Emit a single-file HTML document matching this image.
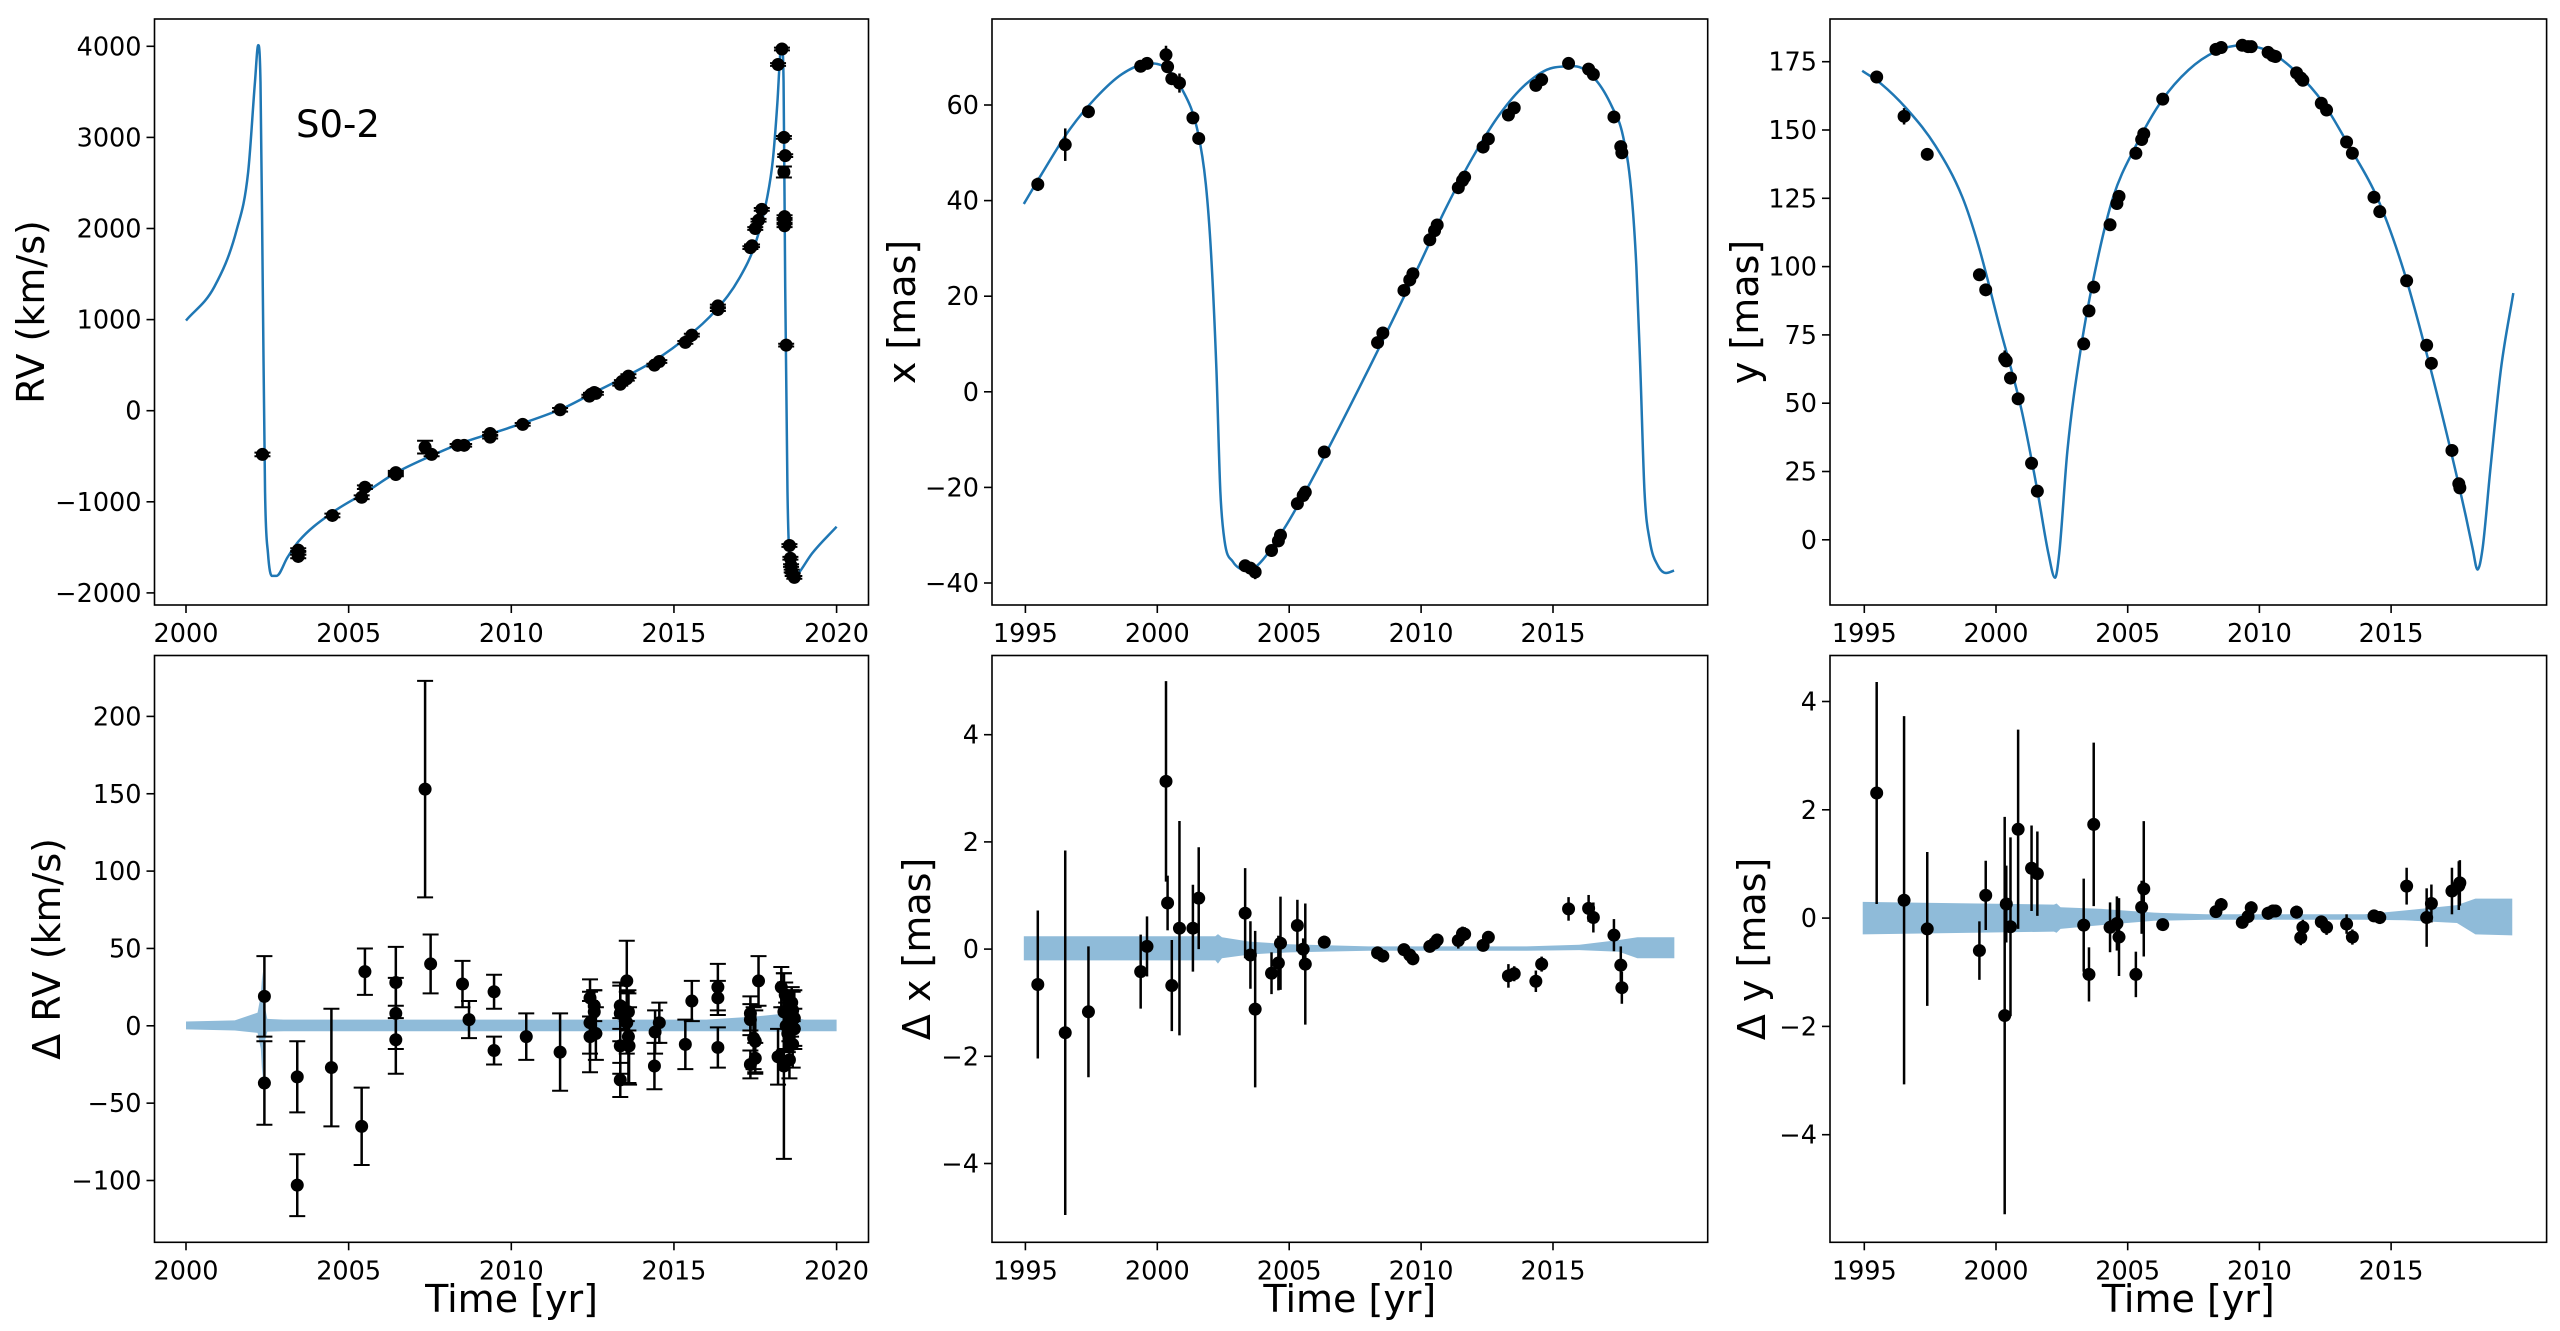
<!DOCTYPE html>
<html><head><meta charset="utf-8">
<style>
html,body{margin:0;padding:0;background:#fff;}
svg{display:block;font-family:"DejaVu Sans","Liberation Sans",sans-serif;}
</style></head>
<body>
<svg id="fig" width="2560" height="1331" viewBox="0 0 2560 1331" xmlns="http://www.w3.org/2000/svg"></svg>
<script>
// ---------- RV panel data ----------
const rvCurveYears = [2000.0,2000.87,2001.56,2001.91,2002.12,2002.22,2002.29,2002.36,2002.43,2002.52,2002.64,2002.78,2003.12,2003.47,2004.51,2005.55,2006.42,2007.46,2008.50,2009.89,2011.62,2012.49,2013.36,2014.40,2015.44,2016.31,2017.00,2017.52,2017.87,2018.04,2018.18,2018.27,2018.32,2018.37,2018.42,2018.49,2018.56,2018.70,2018.82,2019.25,2020.0];
const rvCurveVals = [990,1359,1988,2618,3608,4013,3608,1359,-890,-1565,-1813,-1813,-1610,-1430,-1115,-890,-688,-508,-351,-193,31,189,346,549,819,1111,1448,1853,2348,2753,3383,3924,3991,3608,1359,-890,-1655,-1835,-1790,-1565,-1273];
const rvYears = [2002.35,2003.45,2003.45,2003.45,2004.5,2005.4,2005.5,2006.45,2006.45,2007.35,2007.55,2008.35,2008.55,2009.35,2009.35,2010.35,2011.5,2012.4,2012.45,2012.55,2012.6,2013.35,2013.4,2013.55,2013.6,2014.4,2014.55,2015.35,2015.55,2016.35,2016.35,2017.35,2017.4,2017.5,2017.6,2017.7,2018.2,2018.32,2018.38,2018.42,2018.38,2018.4,2018.4,2018.4,2018.45,2018.55,2018.58,2018.6,2018.62,2018.65,2018.7];
const rvVals = [-480,-1530,-1560,-1600,-1150,-950,-840,-700,-680,-400,-480,-380,-380,-250,-290,-150,10,160,180,200,190,290,320,350,380,500,540,750,830,1110,1150,1790,1810,2000,2090,2210,3800,3970,3000,2800,2620,2130,2080,2030,720,-1480,-1620,-1700,-1760,-1800,-1830];
const rvErrs = [20,20,20,20,20,20,20,20,20,70,20,15,15,15,15,15,20,15,15,15,15,15,15,20,20,15,15,15,15,15,15,15,15,15,15,15,15,15,15,15,60,15,15,15,15,15,15,15,15,15,15];
const rvYTicks = [-2000,-1000,0,1000,2000,3000,4000];
const rvXTicks = [2000,2005,2010,2015,2020];
// ---------- RV residual data ----------
const drvYears = [2002.41,2002.41,2003.42,2003.42,2004.47,2005.40,2005.50,2006.45,2006.45,2006.45,2007.35,2007.52,2008.50,2008.70,2009.47,2009.47,2010.46,2011.50,2012.42,2012.42,2012.42,2012.55,2012.55,2012.60,2013.35,2013.35,2013.35,2013.35,2013.55,2013.55,2013.60,2013.62,2013.60,2014.40,2014.42,2014.55,2015.35,2015.55,2016.35,2016.35,2016.35,2017.35,2017.35,2017.35,2017.45,2017.50,2017.50,2017.60,2018.20,2018.30,2018.38,2018.38,2018.42,2018.45,2018.50,2018.55,2018.60,2018.62,2018.65,2018.65,2018.70,2018.70];
const drvVals = [19,-37,-33,-103,-27,-65,35,28,8,-9,153,40,27,4,22,-16,-7,-17,18,2,-7,13,9,-5,13,8,-13,-35,29,2,-7,-13,9,-26,-4,2,-12,16,25,18,-14,8,4,-25,-8,-10,-21,29,-20,25,9,-26,20,0,-5,-22,8,15,10,-12,-2,5];
const drvErrs = [26,27,23,20,38,25,15,23,23,22,70,19,15,12,11,9,15,25,12,20,23,10,14,17,15,18,18,11,26,20,30,25,12,15,14,13,16,13,15,11,13,11,10,9,20,20,10,16,18,13,25,60,8,15,12,12,15,10,12,15,13,18];
const drvBandYears = [2000,2001.5,2002.2,2002.3,2002.35,2002.4,2002.5,2003,2016,2017.5,2018.3,2019,2020];
const drvBandHi = [2.8,3.5,8.5,20,35,15,4.5,4,4,6,7.7,4,4];
const drvBandLo = [-2.3,-3,-4.6,-15,-34,-12,-3.8,-3.5,-3.5,-3.5,-3.8,-3.5,-3.5];
const drvYTicks = [-100,-50,0,50,100,150,200];
// ---------- x panel data ----------
const xCurveYears = [1994.94,1995.61,1996.63,1997.65,1998.67,1999.69,2000.31,2000.92,2001.53,2001.84,2002.04,2002.24,2002.39,2002.55,2002.86,2003.37,2003.78,2004.80,2005.82,2007.86,2009.90,2010.92,2011.94,2012.96,2013.98,2015.00,2015.82,2016.63,2017.24,2017.65,2017.96,2018.16,2018.31,2018.47,2018.67,2018.98,2019.29,2019.59];
const xCurveVals = [39.3,45.5,54.5,61.4,66.5,68.7,67.8,63.5,54.5,43.4,28.8,4.8,-20.9,-31.2,-35.5,-37.3,-36.4,-28.7,-18.8,3.1,26.2,38.2,48.9,57.9,64.4,67.8,68.1,65.2,59.6,53.6,42.4,26.2,4.8,-21.0,-31.2,-36.4,-37.9,-37.4];
const astYears = [1995.47,1996.51,1997.39,1999.37,1999.61,2000.33,2000.39,2000.55,2000.84,2001.35,2001.57,2003.33,2003.53,2003.71,2004.33,2004.59,2004.67,2005.31,2005.53,2005.61,2006.33,2008.35,2008.55,2009.35,2009.57,2009.69,2010.33,2010.51,2010.61,2011.41,2011.57,2011.65,2012.35,2012.55,2013.31,2013.53,2014.35,2014.57,2015.59,2016.35,2016.53,2017.31,2017.57,2017.61];
const xVals = [43.4,51.7,58.6,68.1,68.7,70.5,68.0,65.5,64.6,57.3,53.0,-36.4,-36.9,-37.7,-33.2,-31.2,-30.0,-23.4,-21.7,-21.0,-12.6,10.3,12.3,21.2,23.4,24.7,31.8,33.7,34.9,42.7,44.2,44.9,51.2,52.9,57.9,59.4,64.1,65.3,68.7,67.5,66.4,57.5,51.3,50.0];
const xErrs = [1.4,3.4,1.2,0.7,0.6,1.9,0.5,0.9,2.0,0.8,1.0,0.8,0.6,1.5,0.4,0.5,0.9,0.5,0.3,1.1,0.2,0.2,0.2,0.2,0.2,0.2,0.2,0.2,0.2,0.2,0.2,0.2,0.2,0.2,0.3,0.3,0.3,0.3,0.3,0.3,0.3,0.3,0.4,0.4];
const dxVals = [-0.66,-1.56,-1.17,-0.42,0.05,3.13,0.86,-0.68,0.39,0.39,0.95,0.67,-0.11,-1.12,-0.45,-0.26,0.11,0.44,0.0,-0.28,0.13,-0.07,-0.13,-0.01,-0.11,-0.18,0.05,0.11,0.17,0.16,0.29,0.28,0.07,0.22,-0.50,-0.46,-0.60,-0.28,0.75,0.76,0.59,0.26,-0.30,-0.72];
const dxErrs = [1.38,3.4,1.22,0.69,0.56,1.87,0.51,0.85,2.0,0.81,0.95,0.84,0.63,1.46,0.39,0.51,0.87,0.48,0.2,1.13,0.12,0.12,0.1,0.1,0.1,0.12,0.1,0.1,0.12,0.15,0.13,0.13,0.1,0.1,0.22,0.14,0.2,0.14,0.22,0.25,0.28,0.3,0.35,0.3];
const dxBandYears = [1994.94,2002.2,2002.3,2002.45,2003.5,2005,2008,2014,2016,2017.5,2018.2,2019.6];
const dxBandHi = [0.24,0.24,0.28,0.22,0.14,0.09,0.05,0.05,0.08,0.17,0.22,0.22];
const dxBandLo = [-0.21,-0.21,-0.27,-0.17,-0.1,-0.06,-0.03,-0.03,-0.02,-0.05,-0.17,-0.17];
const astXTicks = [1995,2000,2005,2010,2015];
const xYTicks = [-40,-20,0,20,40,60];
const dYTicks = [-4,-2,0,2,4];
// ---------- y panel data ----------
const yCurveYears = [1994.92,1995.65,1996.68,1997.70,1998.72,1999.34,2000.15,2000.97,2001.58,2001.99,2002.24,2002.40,2002.71,2003.22,2003.83,2004.45,2005.27,2006.29,2007.31,2008.33,2009.35,2010.38,2011.40,2012.42,2013.44,2014.46,2015.48,2016.30,2017.12,2017.84,2018.10,2018.28,2018.47,2018.76,2019.17,2019.64];
const yCurveVals = [171.7,166.8,157.0,144.2,125.5,107.5,77.5,47.5,17.5,-5.0,-13.9,-5.0,32.5,70.0,101.5,125.5,143.5,160.7,172.0,178.7,181.0,178.7,171.2,160.0,143.5,125.5,98.5,70.0,38.5,8.5,-3.4,-10.9,-3.4,25.0,62.5,90.3];
const yVals = [169.4,155.0,141.1,97.0,91.5,66.3,65.5,59.2,51.6,28.0,17.8,71.7,83.8,92.5,115.3,123.1,125.7,141.5,146.5,148.6,161.3,179.5,180.2,181.0,180.5,180.5,178.4,177.2,176.9,170.9,169.1,168.2,159.8,157.3,145.6,141.5,125.4,120.1,94.8,71.2,64.6,32.7,20.5,19.0];
const yErrs = [1.2,3.0,1.0,0.8,0.8,3.0,0.8,0.8,0.8,0.8,0.8,0.8,0.8,0.8,0.5,0.5,0.5,0.5,0.5,0.5,0.3,0.3,0.3,0.3,0.3,0.3,0.3,0.3,0.3,0.3,0.3,0.3,0.3,0.3,0.3,0.3,0.3,0.3,0.4,0.4,0.4,0.4,0.4,0.4];
const dyVals = [2.31,0.33,-0.2,-0.6,0.42,-1.8,0.26,-0.16,1.64,0.92,0.82,-0.13,-1.04,1.73,-0.17,-0.1,-0.35,-1.04,0.2,0.54,-0.12,0.12,0.25,-0.08,0.03,0.19,0.09,0.13,0.13,0.11,-0.36,-0.17,-0.07,-0.17,-0.11,-0.35,0.04,0.01,0.59,0.01,0.27,0.5,0.6,0.65];
const dyErrs = [2.05,3.4,1.42,0.54,0.64,3.67,0.71,1.65,1.84,0.79,0.78,0.86,0.5,1.51,0.46,0.5,0.72,0.42,0.49,1.25,0.1,0.1,0.12,0.1,0.12,0.12,0.12,0.12,0.1,0.12,0.14,0.14,0.1,0.14,0.18,0.14,0.1,0.12,0.34,0.54,0.35,0.43,0.45,0.42];
const dyBandYears = [1994.94,2002.2,2002.3,2002.45,2004,2006,2008,2014,2015.5,2017.5,2018.2,2019.6];
const dyBandHi = [0.3,0.25,0.27,0.2,0.17,0.1,0.07,0.07,0.14,0.24,0.36,0.36];
const dyBandLo = [-0.3,-0.25,-0.27,-0.2,-0.13,-0.05,-0.03,-0.03,-0.04,-0.09,-0.3,-0.32];
const yYTicks = [0,25,50,75,100,125,150,175];

// ---------- rendering ----------
const NS = 'http://www.w3.org/2000/svg';
const svg = document.getElementById('fig');
const BLUE = '#1f77b4', BAND = '#8fbbd9';
function mk(tag, attrs, parent){ const e=document.createElementNS(NS,tag); for(const k in attrs) e.setAttribute(k,attrs[k]); (parent||svg).appendChild(e); return e; }
function fmt(v){ return (v<0?'\u2212':'')+Math.abs(v); }
// monotone cubic (Fritsch-Carlson) path through pixel points
function monoPath(xs, ys){
  const n = xs.length, d = [], m = [];
  for(let i=0;i<n-1;i++) d.push((ys[i+1]-ys[i])/(xs[i+1]-xs[i]));
  m[0]=d[0]; m[n-1]=d[n-2];
  for(let i=1;i<n-1;i++) m[i] = (d[i-1]*d[i]<=0) ? 0 : (d[i-1]+d[i])/2;
  for(let i=0;i<n-1;i++){
    if(d[i]===0){ m[i]=0; m[i+1]=0; continue; }
    const a=m[i]/d[i], b=m[i+1]/d[i], s=a*a+b*b;
    if(s>9){ const t=3/Math.sqrt(s); m[i]=t*a*d[i]; m[i+1]=t*b*d[i]; }
  }
  let p = 'M'+xs[0]+','+ys[0];
  for(let i=0;i<n-1;i++){
    const h=(xs[i+1]-xs[i])/3;
    p += ' C'+(xs[i]+h)+','+(ys[i]+m[i]*h)+' '+(xs[i+1]-h)+','+(ys[i+1]-m[i+1]*h)+' '+xs[i+1]+','+ys[i+1];
  }
  return p;
}

function panel(cfg){
  const g = mk('g',{});
  
  
  const sx = y => cfg.xPx0 + (y - cfg.xYr0)*cfg.pxPerYr;
  const sy = v => cfg.yPx0 - v*cfg.pxPerUnit;
  const clipId = 'clip-'+cfg.name;
  const cp = mk('clipPath',{id:clipId},g); mk('rect',{x:cfg.L,y:cfg.T,width:cfg.R-cfg.L,height:cfg.B-cfg.T},cp);
  const plot = mk('g',{'clip-path':'url(#'+clipId+')'},g);
  
  
  if(cfg.band){
    const [by,hi,lo] = cfg.band;
    let pts = by.map((y,i)=>sx(y)+','+sy(hi[i]));
    pts = pts.concat(by.map((y,i)=>sx(y)+','+sy(lo[i])).reverse());
    const p = mk('polygon',{points:pts.join(' '),fill:BAND,stroke:'none'},plot);
    
    
  }
  if(cfg.curve){
    const [cy,cv] = cfg.curve;
    const p = mk('path',{d:monoPath(cy.map(sx),cv.map(sy)),fill:'none',stroke:BLUE,'stroke-width':2.5,'stroke-linejoin':'round'},plot);
    
    
  }
  const [py,pv,pe] = cfg.pts;
  py.forEach((y,i)=>{
    const X=sx(y), Y=sy(pv[i]), e=pe[i]*cfg.pxPerUnit;
    const grp = mk('g',{},plot);
    
    
    mk('line',{x1:X,x2:X,y1:Y-e,y2:Y+e,stroke:'#000','stroke-width':2.5},grp);
    if(cfg.caps){ mk('line',{x1:X-8,x2:X+8,y1:Y-e,y2:Y-e,stroke:'#000','stroke-width':2},grp); mk('line',{x1:X-8,x2:X+8,y1:Y+e,y2:Y+e,stroke:'#000','stroke-width':2},grp); }
    mk('ellipse',{cx:X,cy:Y,rx:6.5,ry:6.5,fill:'#000'},grp);
  });
  const frame = mk('rect',{x:cfg.L,y:cfg.T,width:cfg.R-cfg.L,height:cfg.B-cfg.T,fill:'none',stroke:'#000','stroke-width':1.6},g);
  
  
  cfg.xTicks.forEach(t=>{
    const X=sx(t);
    mk('line',{x1:X,x2:X,y1:cfg.B,y2:cfg.B+8,stroke:'#000','stroke-width':1.6},g);
    const tx = mk('text',{x:X,y:cfg.B+37,'font-size':25.5,'text-anchor':'middle',fill:'#000'},g);
    tx.textContent = t;
    
    
  });
  cfg.yTicks.forEach(t=>{
    const Y=sy(t);
    mk('line',{x1:cfg.L-8,x2:cfg.L,y1:Y,y2:Y,stroke:'#000','stroke-width':1.6},g);
    const tx = mk('text',{x:cfg.L-13,y:Y+9,'font-size':25.5,'text-anchor':'end',fill:'#000'},g);
    tx.textContent = fmt(t);
    
    
  });
  const yl = mk('text',{x:0,y:0,'font-size':38,'text-anchor':'middle',transform:'translate('+cfg.ylabX+','+((cfg.T+cfg.B)/2)+') rotate(-90)',fill:'#000'},g);
  yl.textContent = cfg.ylabel;
  
  
  if(cfg.xlabel){
    const xl = mk('text',{x:(cfg.L+cfg.R)/2,y:1312,'font-size':38,'text-anchor':'middle',fill:'#000'},g);
    xl.textContent = cfg.xlabel;
    
    
  }
  return g;
}

panel({name:'rv-panel',L:154.5,R:868.5,T:19,B:605,xYr0:2000,xPx0:186,pxPerYr:32.53,yPx0:410.7,pxPerUnit:0.0911,
  curve:[rvCurveYears,rvCurveVals],pts:[rvYears,rvVals,rvErrs],caps:true,xTicks:rvXTicks,yTicks:rvYTicks,ylabel:'RV (km/s)',ylabX:44});
panel({name:'x-panel',L:992,R:1707.7,T:19,B:605,xYr0:1995,xPx0:1025.4,pxPerYr:26.38,yPx0:391.8,pxPerUnit:4.78,
  curve:[xCurveYears,xCurveVals],pts:[astYears,xVals,xErrs],caps:false,xTicks:astXTicks,yTicks:xYTicks,ylabel:'x [mas]',ylabX:915});
panel({name:'y-panel',L:1830,R:2546.6,T:19,B:605,xYr0:1995,xPx0:1864.3,pxPerYr:26.34,yPx0:539.8,pxPerUnit:2.732,
  curve:[yCurveYears,yCurveVals],pts:[astYears,yVals,yErrs],caps:false,xTicks:astXTicks,yTicks:yYTicks,ylabel:'y [mas]',ylabX:1758});
panel({name:'rv-residual-panel',L:154.5,R:868.5,T:655.5,B:1242.3,xYr0:2000,xPx0:186,pxPerYr:32.53,yPx0:1025.8,pxPerUnit:1.547,
  band:[drvBandYears,drvBandHi,drvBandLo],pts:[drvYears,drvVals,drvErrs],caps:true,xTicks:rvXTicks,yTicks:drvYTicks,ylabel:'\u0394 RV (km/s)',ylabX:60,xlabel:'Time [yr]'});
panel({name:'x-residual-panel',L:992,R:1707.7,T:655.5,B:1242.3,xYr0:1995,xPx0:1025.4,pxPerYr:26.38,yPx0:949.1,pxPerUnit:53.6,
  band:[dxBandYears,dxBandHi,dxBandLo],pts:[astYears,dxVals,dxErrs],caps:false,xTicks:astXTicks,yTicks:dYTicks,ylabel:'\u0394 x [mas]',ylabX:930,xlabel:'Time [yr]'});
panel({name:'y-residual-panel',L:1830,R:2546.6,T:655.5,B:1242.3,xYr0:1995,xPx0:1864.3,pxPerYr:26.34,yPx0:918.1,pxPerUnit:54.15,
  band:[dyBandYears,dyBandHi,dyBandLo],pts:[astYears,dyVals,dyErrs],caps:false,xTicks:astXTicks,yTicks:dYTicks,ylabel:'\u0394 y [mas]',ylabX:1765,xlabel:'Time [yr]'});

const star = mk('text',{x:296,y:137,'font-size':37,fill:'#000'});
star.textContent = 'S0-2';


</script>
</body></html>
